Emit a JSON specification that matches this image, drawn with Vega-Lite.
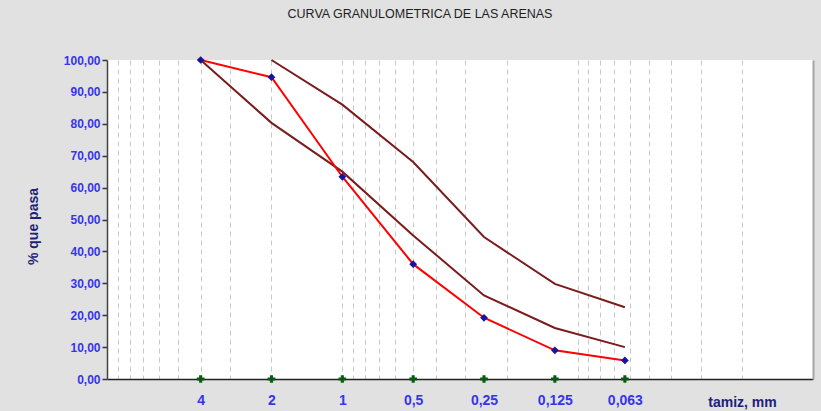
{
  "$schema": "https://vega.github.io/schema/vega-lite/v6.json",
  "autosize": "none",
  "width": 706,
  "height": 319,
  "padding": {"left": 107, "top": 60, "right": 8, "bottom": 32},
  "background": "#e1e1e1",
  "config": {
    "view": {"fill": "white", "stroke": null},
    "font": "Liberation Sans"
  },
  "title": {
    "text": "CURVA GRANULOMETRICA DE LAS ARENAS",
    "anchor": "middle",
    "frame": "group",
    "dx": -40,
    "offset": 34,
    "fontSize": 12.5,
    "fontWeight": "normal",
    "color": "#1e1e1e",
    "font": "Liberation Sans"
  },
  "datasets": {
    "curvas": [
      {"serie": "inferior", "tamiz": 4, "pasa": 100},
      {"serie": "inferior", "tamiz": 2, "pasa": 80.3},
      {"serie": "inferior", "tamiz": 1, "pasa": 65},
      {"serie": "inferior", "tamiz": 0.5, "pasa": 45},
      {"serie": "inferior", "tamiz": 0.25, "pasa": 26.2},
      {"serie": "inferior", "tamiz": 0.125, "pasa": 16},
      {"serie": "inferior", "tamiz": 0.063, "pasa": 10},
      {"serie": "superior", "tamiz": 2, "pasa": 100},
      {"serie": "superior", "tamiz": 1, "pasa": 86},
      {"serie": "superior", "tamiz": 0.5, "pasa": 68},
      {"serie": "superior", "tamiz": 0.25, "pasa": 44.5},
      {"serie": "superior", "tamiz": 0.125, "pasa": 29.8},
      {"serie": "superior", "tamiz": 0.063, "pasa": 22.5},
      {"serie": "muestra", "tamiz": 4, "pasa": 100},
      {"serie": "muestra", "tamiz": 2, "pasa": 94.6},
      {"serie": "muestra", "tamiz": 1, "pasa": 63.4},
      {"serie": "muestra", "tamiz": 0.5, "pasa": 36},
      {"serie": "muestra", "tamiz": 0.25, "pasa": 19.2},
      {"serie": "muestra", "tamiz": 0.125, "pasa": 9},
      {"serie": "muestra", "tamiz": 0.063, "pasa": 5.8}
    ],
    "tamices": [
      {"tamiz": 4, "pasa": 0},
      {"tamiz": 2, "pasa": 0},
      {"tamiz": 1, "pasa": 0},
      {"tamiz": 0.5, "pasa": 0},
      {"tamiz": 0.25, "pasa": 0},
      {"tamiz": 0.125, "pasa": 0},
      {"tamiz": 0.063, "pasa": 0}
    ]
  },
  "resolve": {"axis": {"x": "independent", "y": "independent"}},
  "layer": [
    {
      "data": {"name": "curvas"},
      "mark": {"type": "line", "interpolate": "linear", "strokeWidth": 2},
      "encoding": {
        "x": {
          "field": "tamiz", "type": "quantitative",
          "scale": {"type": "log", "domain": [0.01, 10], "reverse": true, "nice": false},
          "axis": {
            "orient": "bottom",
            "values": [0.01,0.02,0.03,0.04,0.05,0.06,0.07,0.08,0.09,0.1,0.2,0.3,0.4,0.5,0.6,0.7,0.8,0.9,1,2,3,4,5,6,7,8,9,10,0.25,0.125,0.063],
            "grid": true,
            "gridDash": [5, 4],
            "gridColor": "#c8c8c8",
            "gridWidth": 1,
            "gridOpacity": {"condition": {"test": "indexof([0.25,0.125,0.063], datum.value) >= 0", "value": 0}, "value": 1},
            "ticks": false,
            "tickSize": 0,
            "labelExpr": "indexof([4,2,1,0.5,0.25,0.125,0.063], datum.value) >= 0 ? replace(toString(datum.value), '.', ',') : ''",
            "labelOverlap": false,
            "labelFlush": false,
            "labelBound": false,
            "labelPadding": 14,
            "labelFontSize": 14,
            "labelFontWeight": "bold",
            "labelColor": "#3535ee",
            "labelFont": "Liberation Sans",
            "domainColor": "#222222",
            "domainWidth": 1.5,
            "title": "tamiz, mm",
            "titleX": 635,
            "titleY": 23,
            "titleAlign": "center",
            "titleBaseline": "middle",
            "titleFontSize": 14,
            "titleFontWeight": "bold",
            "titleColor": "#20207a",
            "titleFont": "Liberation Sans"
          }
        },
        "y": {
          "field": "pasa", "type": "quantitative",
          "scale": {"domain": [0, 100], "nice": false},
          "axis": {
            "orient": "left",
            "values": [0,10,20,30,40,50,60,70,80,90,100],
            "grid": false,
            "labelExpr": "replace(format(datum.value, '.2f'), '.', ',')",
            "labelFontSize": 12,
            "labelFontWeight": "bold",
            "labelColor": "#3535ee",
            "labelFont": "Liberation Sans",
            "labelPadding": 2,
            "labelFlush": false,
            "labelOverlap": false,
            "tickSize": 5,
            "tickColor": "#333333",
            "tickWidth": 1.5,
            "domainColor": "#444444",
            "domainWidth": 1.5,
            "title": "% que pasa",
            "titleX": -74,
            "titleY": 166,
            "titleAngle": -90,
            "titleAlign": "center",
            "titleBaseline": "middle",
            "titleFontSize": 14,
            "titleFontWeight": "bold",
            "titleColor": "#1e1e78",
            "titleFont": "Liberation Sans"
          }
        },
        "color": {
          "field": "serie", "type": "nominal",
          "scale": {"domain": ["inferior", "superior", "muestra"], "range": ["#7a1c1c", "#7a1c1c", "#ff0000"]},
          "legend": null
        },
        "order": {"field": "tamiz", "type": "quantitative", "sort": "descending"}
      }
    },
    {
      "data": {"name": "curvas"},
      "transform": [{"filter": "datum.serie == 'muestra'"}],
      "mark": {"type": "point", "shape": "diamond", "filled": true, "size": 60, "color": "#1414a0", "opacity": 1},
      "encoding": {
        "x": {"field": "tamiz", "type": "quantitative", "scale": {"type": "log", "domain": [0.01, 10], "reverse": true, "nice": false}, "axis": null},
        "y": {"field": "pasa", "type": "quantitative", "scale": {"domain": [0, 100], "nice": false}, "axis": null}
      }
    },
    {
      "data": {"name": "tamices"},
      "mark": {"type": "point", "shape": "cross", "filled": true, "size": 60, "color": "#0b5a12", "opacity": 1, "clip": false},
      "encoding": {
        "x": {"field": "tamiz", "type": "quantitative", "scale": {"type": "log", "domain": [0.01, 10], "reverse": true, "nice": false}, "axis": null},
        "y": {"field": "pasa", "type": "quantitative", "scale": {"domain": [0, 100], "nice": false},
          "axis": {"orient": "right", "labels": false, "ticks": false, "grid": false, "title": null, "domainColor": "#a6a6a6", "domainWidth": 2}}
      }
    }
  ]
}
